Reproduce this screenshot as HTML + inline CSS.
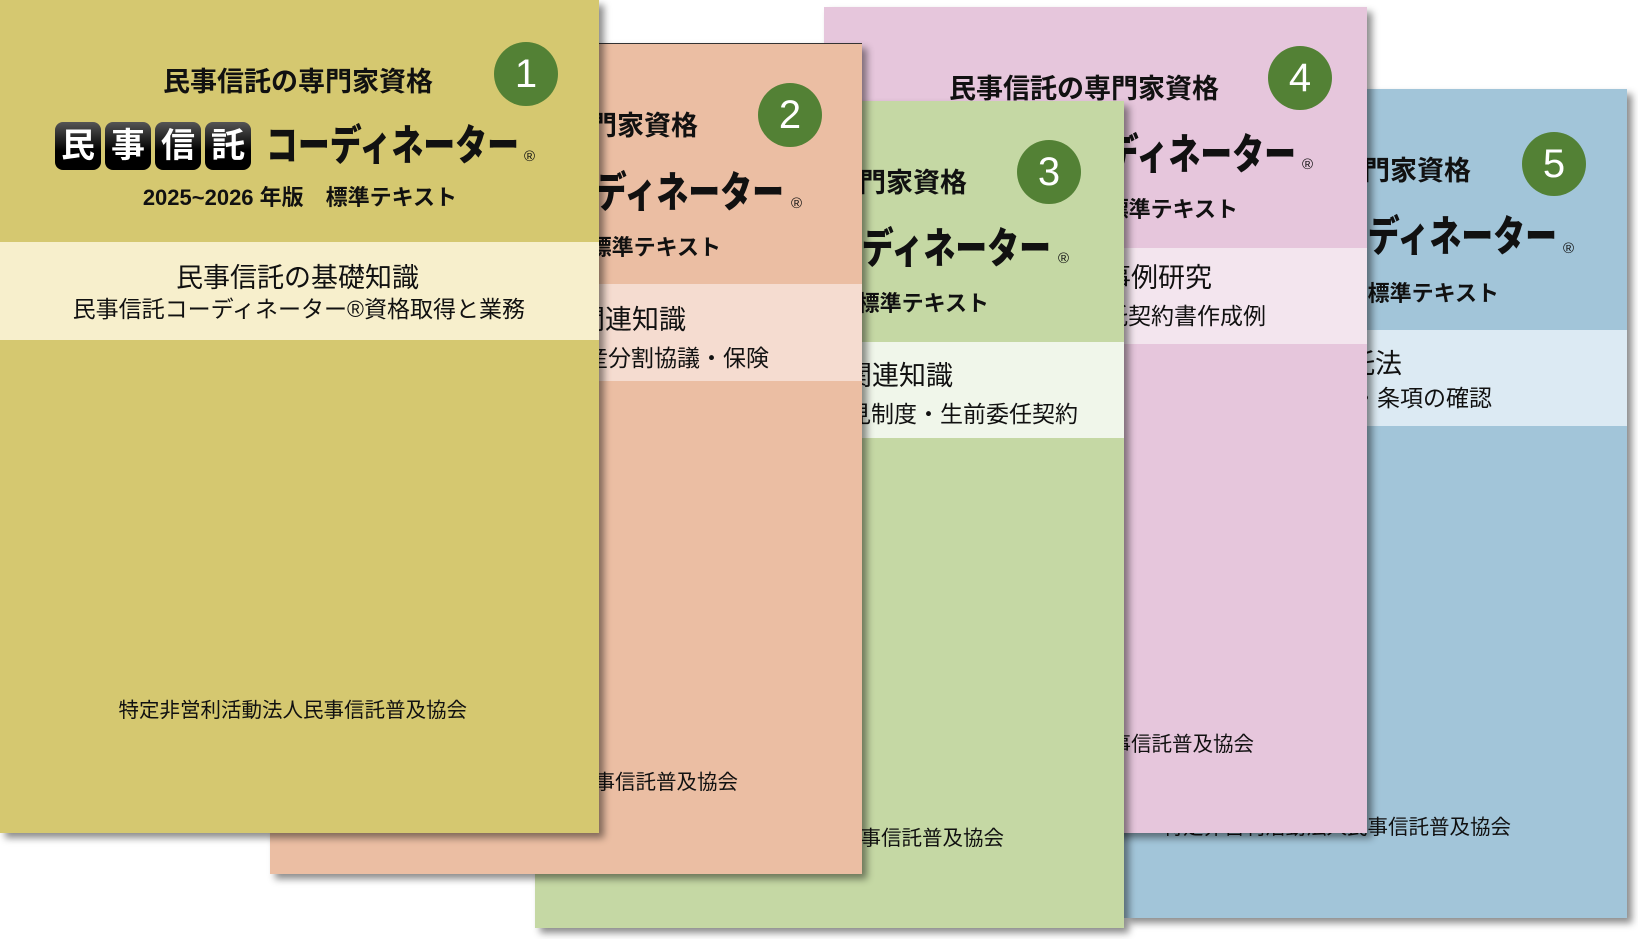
<!DOCTYPE html>
<html><head><meta charset="utf-8"><style>
body{margin:0;background:#fff;}
#c{position:relative;width:1638px;height:939px;overflow:hidden;background:#fff;font-family:"Liberation Sans","Noto Sans CJK JP",sans-serif;}
.bk{position:absolute;overflow:hidden;box-shadow:5px 5px 7px rgba(0,0,0,.45);}
.in{position:absolute;width:1638px;height:939px;}
.band{position:absolute;left:0;width:1638px;}
.t{position:absolute;white-space:nowrap;color:#111;}
.tt{font-size:27px;line-height:32px;font-weight:700;}
.kt{font-size:42px;line-height:50px;font-weight:900;transform:scaleX(0.76);transform-origin:right center;}
.rg{font-size:15px;line-height:16px;}
.ed{font-size:22px;line-height:26px;font-weight:700;}
.bt{font-size:27px;line-height:32px;}
.bs{font-size:23px;line-height:28px;}
.ft{font-size:20.5px;line-height:25px;}
.bd{position:absolute;width:64px;height:64px;border-radius:50%;background:#538135;color:#fff;font-size:40px;line-height:64px;text-align:center;}
.sq{position:absolute;top:122px;width:46px;height:48px;border-radius:8px;background:linear-gradient(#555,#000 60%);color:#fff;font-size:34px;font-weight:700;line-height:48px;text-align:center;}
</style></head><body><div id="c">

<!-- Book 5 -->
<div class="bk" style="left:1124px;top:89px;width:503px;height:829px;background:#a2c5d9;">
<div class="in" style="left:-1124px;top:-89px;">
<div class="band" style="top:330px;height:96px;background:#dceaf3;"></div>
<div class="t tt" style="right:167px;top:155px;">民事信託の専門家資格</div>
<div class="bd" style="left:1522px;top:132px;">5</div>
<div class="t kt" style="right:81px;top:212px;">民事信託コーディネーター</div>
<div class="t rg" style="left:1563px;top:241px;">®</div>
<div class="t ed" style="right:139px;top:281px;">2025~2026 年版　標準テキスト</div>
<div class="t bt" style="right:236px;top:348px;">民事信託と信託法</div>
<div class="t bs" style="right:146px;top:384px;">信託法の概要・条項の確認</div>
<div class="t ft" style="right:127px;top:815px;">特定非営利活動法人民事信託普及協会</div>
</div></div>

<!-- Book 4 -->
<div class="bk" style="left:824px;top:7px;width:543px;height:826px;background:#e6c6dc;">
<div class="in" style="left:-824px;top:-7px;">
<div class="band" style="top:248px;height:96px;background:#f3e5ee;"></div>
<div class="t tt" style="right:419px;top:73px;">民事信託の専門家資格</div>
<div class="bd" style="left:1268px;top:46px;">4</div>
<div class="t kt" style="right:342px;top:130px;">民事信託コーディネーター</div>
<div class="t rg" style="left:1302px;top:157px;">®</div>
<div class="t ed" style="right:400px;top:197px;">2025~2026 年版　標準テキスト</div>
<div class="t bt" style="right:426px;top:262px;">民事信託の事例研究</div>
<div class="t bs" style="right:372px;top:302px;">民事信託契約書作成例</div>
<div class="t ft" style="right:384px;top:732px;">特定非営利活動法人民事信託普及協会</div>
</div></div>

<!-- Book 3 -->
<div class="bk" style="left:535px;top:101px;width:589px;height:827px;background:#c5d8a4;">
<div class="in" style="left:-535px;top:-101px;">
<div class="band" style="top:342px;height:96px;background:#f0f6ea;"></div>
<div class="t tt" style="right:671px;top:167px;">民事信託の専門家資格</div>
<div class="bd" style="left:1017px;top:140px;">3</div>
<div class="t kt" style="right:587px;top:224px;">民事信託コーディネーター</div>
<div class="t rg" style="left:1058px;top:251px;">®</div>
<div class="t ed" style="right:649px;top:291px;">2025~2026 年版　標準テキスト</div>
<div class="t bt" style="right:685px;top:360px;">民事信託の関連知識</div>
<div class="t bs" style="right:560px;top:400px;">成年後見制度・生前委任契約</div>
<div class="t ft" style="right:634px;top:826px;">特定非営利活動法人民事信託普及協会</div>
</div></div>

<!-- Book 2 -->
<div class="bk" style="left:270px;top:43px;width:592px;height:830px;background:#ebbea3;border-top:1px solid #333;">
<div class="in" style="left:-270px;top:-44px;">
<div class="band" style="top:284px;height:97px;background:#f5dcd0;"></div>
<div class="t tt" style="right:940px;top:110px;">民事信託の専門家資格</div>
<div class="bd" style="left:758px;top:83px;">2</div>
<div class="t kt" style="right:854px;top:168px;">民事信託コーディネーター</div>
<div class="t rg" style="left:791px;top:196px;">®</div>
<div class="t ed" style="right:917px;top:235px;">2025~2026 年版　標準テキスト</div>
<div class="t bt" style="right:952px;top:304px;">民事信託の関連知識</div>
<div class="t bs" style="right:869px;top:344px;">相続・遺産分割協議・保険</div>
<div class="t ft" style="right:900px;top:770px;">特定非営利活動法人民事信託普及協会</div>
</div></div>

<!-- Book 1 -->
<div class="bk" style="left:0;top:0;width:599px;height:833px;background:#d5c870;">
<div class="in" style="left:0;top:0;">
<div class="band" style="top:242px;height:98px;background:#f7efcc;"></div>
<div class="t tt" style="right:1205px;top:66px;">民事信託の専門家資格</div>
<div class="bd" style="left:494px;top:42px;">1</div>
<div class="sq" style="left:55px;">民</div>
<div class="sq" style="left:105px;">事</div>
<div class="sq" style="left:155px;">信</div>
<div class="sq" style="left:205px;">託</div>
<div class="t kt" style="right:1119px;top:121px;">コーディネーター</div>
<div class="t rg" style="left:524px;top:149px;">®</div>
<div class="t ed" style="right:1181px;top:185px;">2025~2026 年版　標準テキスト</div>
<div class="t bt" style="right:1219px;top:262px;">民事信託の基礎知識</div>
<div class="t bs" style="right:1113px;top:295px;">民事信託コーディネーター®資格取得と業務</div>
<div class="t ft" style="right:1171px;top:698px;">特定非営利活動法人民事信託普及協会</div>
</div></div>

</div></body></html>
